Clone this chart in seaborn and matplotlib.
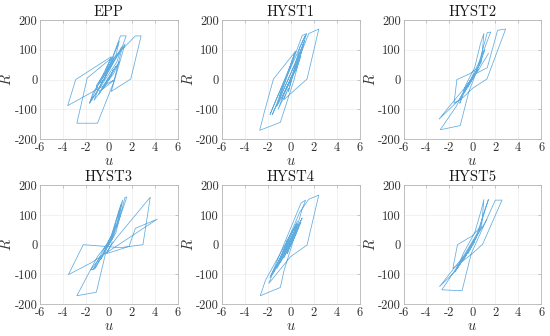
import numpy as np
import pandas as pd
import matplotlib
matplotlib.use("Agg")
import matplotlib.pyplot as plt
import seaborn as sns

# hysteresis paths (u = displacement, R = restoring force)
epp_u = [0, 0.4, 0.1, -0.5, -0.2, 0.6, 0.2, -0.9, -0.5, 0.9, 0.4, -1.3, -0.9, 1.1, 0.7, -1.7, -1.4, 0.4, 0.1, -0.9,
         -0.4, 1.0, 1.5, 1.2, 0.4, -1.0, -2.8, -2.4, -1.9, 0.3, -0.1, -1.7, -1.2, 0.9, 1.4, 0.5, -3.6, -2.9, 0.2, -0.3,
         0.4, 2.3, 2.8, 1.9, 0.2, 0.5, -0.8, -1.1, 0.6, 0.9, -0.2]
epp_r = [0, 35, 10, -30, -5, 45, 15, -50, -20, 60, 20, -70, -30, 110, 60, -80, -45, 65, 40, -15,
         0, 147, 147, 115, -10, -147, -147, -80, 5, 75, 50, -79, -50, 90, 120, 0, -88, 0, 77, 30,
         72, 147, 147, 2, -40, 0, -40, -20, 80, 130, 20]

hyst1_u = [0, 0.3, 0.0, -0.4, -0.1, 0.6, 0.2, -0.8, -0.4, 0.9, 0.5, -1.2, -0.8, 1.1, 0.6, -1.6, -1.2, 0.4, 0.1, -1.0,
           -0.6, 1.0, 1.4, 1.1, 0.3, -0.9, -2.7, -2.3, -1.5, 0.4, 0.0, -1.8, -1.3, 1.3, 0.8, -0.2, 0.4, 1.58, 2.45, 1.43,
           -0.6, -0.2, -1.1, -0.7, 0.7, 1.2, 0.2]
hyst1_r = [0, 30, 5, -35, -10, 55, 20, -65, -30, 80, 35, -90, -50, 120, 70, -118, -80, 94, 60, -60,
           -20, 148, 155, 120, 0, -144, -171, -110, 2, 94, 50, -118, -70, 150, 110, -40, 40, 155, 170, 2,
           -68, -30, -100, -60, 60, 130, 20]

hyst2_u = [0, 0.3, 0.1, -0.4, -0.2, 0.5, 0.3, -0.7, -0.4, 0.8, 1.0, 0.7, 0.2, -0.6, -1.1, -0.9, -0.3, 0.4, 1.3, 1.6,
           1.2, 0.4, -0.5, -1.4, -2.8, -1.06, -0.3, 0.3, 1.3, 2.2, 2.9, 1.27, 0.0, -0.8, -1.6, -1.35, -0.2, 0.5, 1.1, 0.6,
           -0.4, -1.2, -2.9, -2.0, -0.5, 0.5, 1.4]
hyst2_r = [0, 25, 10, -25, -10, 35, 20, -45, -20, 60, 155, 120, 40, -20, -80, -60, -10, 30, 158, 160,
           120, 30, -20, -90, -169, -155, -40, 20, 40, 166, 170, 2, -30, -60, -80, 0, 20, 40, 100, 60,
           -20, -70, -133, -90, -20, 30, 88]

hyst3_u = [0, 0.3, 0.1, -0.4, -0.2, 0.5, 0.2, -0.7, -0.4, 0.8, 1.2, 0.9, 0.2, -0.8, -1.4, -1.1, -0.3, 0.6, 1.4, 1.55,
           1.2, 0.3, -0.6, -1.6, -1.2, -0.2, 0.7, 1.1, 0.2, -1.0, -2.8, -1.1, -0.3, 0.6, 3.6, 2.96, 1.0, -2.24, -3.54, -1.5,
           4.2, 2.3, 1.75, -0.2, 0.3]
hyst3_r = [0, 35, 15, -30, -10, 50, 20, -50, -20, 80, 150, 120, 30, -40, -85, -70, -20, 40, 160, 160,
           120, 20, -35, -85, -80, -10, 70, 140, 20, -40, -172, -160, -30, 20, 160, 0, -10, 0, -101, -60,
           86, 55, -6, -30, 10]

hyst4_u = [0, 0.3, 0.0, -0.3, -0.1, 0.5, 0.2, -0.6, -0.3, 0.7, 0.4, -0.9, -0.5, 0.9, 0.5, -1.2, -0.8, 1.0, 0.6, -1.5,
           -1.1, 0.6, 0.3, -1.8, -1.4, 0.9, 1.3, 1.0, 0.2, -0.6, -0.9, -2.65, -2.2, -1.2, -0.2, 0.5, 0.3, -1.6, -1.1, 0.8,
           1.58, 2.45, 1.43, 0.0, -1.9, -1.5, -0.3, 0.4, 0.6, -0.4]
hyst4_r = [0, 25, 0, -30, -10, 40, 15, -45, -15, 60, 30, -60, -25, 75, 40, -80, -45, 90, 55, -95,
           -60, 80, 45, -110, -75, 140, 150, 120, 10, -90, -144, -172, -120, -50, 20, 70, 40, -100, -60, 110,
           153, 167, -1, -40, -130, -90, -10, 40, 70, 10]

hyst5_u = [0, 0.3, 0.0, -0.4, -0.1, 0.5, 0.2, -0.7, -0.3, 0.8, 1.0, 0.8, 0.2, -0.8, -1.3, -1.0, -0.2, 0.5, 1.4, 1.1,
           0.3, -0.6, -1.5, -1.1, -0.3, 0.2, -0.9, -2.66, -0.9, -0.1, 0.6, 2.0, 2.58, 0.9, 0.0, -1.0, -1.7, -1.3, 0.0, 0.7,
           0.3, -0.8, -2.86, -1.5, 0.1, 1.27]
hyst5_r = [0, 25, 5, -30, -10, 40, 15, -45, -15, 60, 152, 120, 40, -30, -80, -60, -10, 40, 152, 120,
           20, -40, -90, -60, -20, 10, -50, -152, -155, -30, 30, 150, 150, 2, -30, -60, -80, 0, 30, 60,
           30, -40, -141, -90, 10, 85]

titles = ["EPP", "HYST1", "HYST2", "HYST3", "HYST4", "HYST5"]
paths = [(epp_u, epp_r), (hyst1_u, hyst1_r), (hyst2_u, hyst2_r),
         (hyst3_u, hyst3_r), (hyst4_u, hyst4_r), (hyst5_u, hyst5_r)]
x_ticks = [-6, -4, -2, 0, 2, 4, 6]
y_ticks = [-200, -100, 0, 100, 200]

sns.set_theme(style="whitegrid")
plt.rcParams.update({
    "font.family": "serif",
    "font.serif": ["cmr10", "DejaVu Serif"],
    "mathtext.fontset": "cm",
    "axes.unicode_minus": False,
    "axes.formatter.use_mathtext": False,
})

fig, axes = plt.subplots(2, 3, figsize=(5.5, 3.36), dpi=100)
fig.subplots_adjust(left=0.073, right=0.984, bottom=0.095, top=0.94, wspace=0.32, hspace=0.39)

for ax, title, (u, r) in zip(axes.flat, titles, paths):
    df = pd.DataFrame({"u": u, "R": r})
    sns.lineplot(data=df, x="u", y="R", sort=False, estimator=None, ax=ax,
                 color="#3a97d8", linewidth=0.55, alpha=0.8)
    ax.set_xlim(-6, 6)
    ax.set_ylim(-200, 200)
    ax.set_xticks(x_ticks)
    ax.set_yticks(y_ticks)
    ax.set_title(title, fontsize=10.5, pad=3, color="#1a1a1a")
    ax.set_xlabel("$u$", fontsize=10.5, labelpad=0, color="#333333")
    ax.set_ylabel("$R$", fontsize=10.5, labelpad=0, color="#333333")
    ax.tick_params(labelsize=9, direction="in", length=2, width=0.5, pad=2,
                   top=True, right=True, color="#b0b0b0", labelcolor="#333333")
    ax.grid(True, color="#ececec", linewidth=0.5)
    ax.set_facecolor("white")
    for s in ax.spines.values():
        s.set_color("#b5b5b5")
        s.set_linewidth(0.6)

fig.savefig("out.png", dpi=100)
